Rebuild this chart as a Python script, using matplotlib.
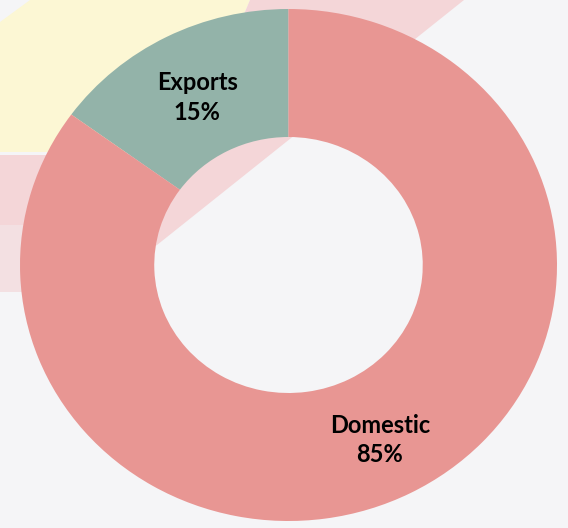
import matplotlib.pyplot as plt
import numpy as np
from matplotlib.patches import Polygon

# Share of output by destination
categories = ["Exports", "Domestic"]
shares = [15, 85]
colors = ["#93b3a9", "#e89693"]

fig = plt.figure(figsize=(5.68, 5.28), dpi=100)
fig.patch.set_facecolor("#f5f5f7")

# faded slide artwork behind the chart (pixel coordinates)
bg = fig.add_axes([0, 0, 1, 1], zorder=0)
bg.set_xlim(0, 568)
bg.set_ylim(528, 0)
bg.axis("off")
bg.add_patch(Polygon([(0, 22), (30, 0), (250, 0), (185, 152), (0, 152)],
                     closed=True, facecolor="#fcf7d4", edgecolor="none"))
bg.add_patch(Polygon([(250, 0), (464, 0), (157, 245), (70, 292), (0, 292),
                      (0, 155), (185, 155)],
                     closed=True, facecolor="#f4d6d8", edgecolor="none"))
bg.add_patch(Polygon([(0, 225), (125, 225), (70, 292), (0, 292)],
                     closed=True, facecolor="#f3e0e2", edgecolor="none"))

ax = fig.add_axes([20 / 568, 7 / 528, 537 / 568, 512 / 528], zorder=1)
wedges, _ = ax.pie(shares, colors=colors, startangle=90, counterclock=True,
                   radius=1.0, wedgeprops=dict(width=0.5, edgecolor="none"))
ax.set_aspect("auto")
ax.set_xlim(-1, 1)
ax.set_ylim(-1, 1)
ax.axis("off")

# labels sit in the middle of the ring, at each wedge's mid angle
for w, name, val in zip(wedges, categories, shares):
    mid = np.deg2rad((w.theta1 + w.theta2) / 2)
    r = 0.75
    ax.text(r * np.cos(mid), r * np.sin(mid) - 0.015, f"{name}\n{val}%",
            ha="center", va="center", fontsize=17, fontweight="bold",
            family="Lato", color="#000000", linespacing=1.35)

fig.savefig("out.png", dpi=100, facecolor=fig.get_facecolor())
